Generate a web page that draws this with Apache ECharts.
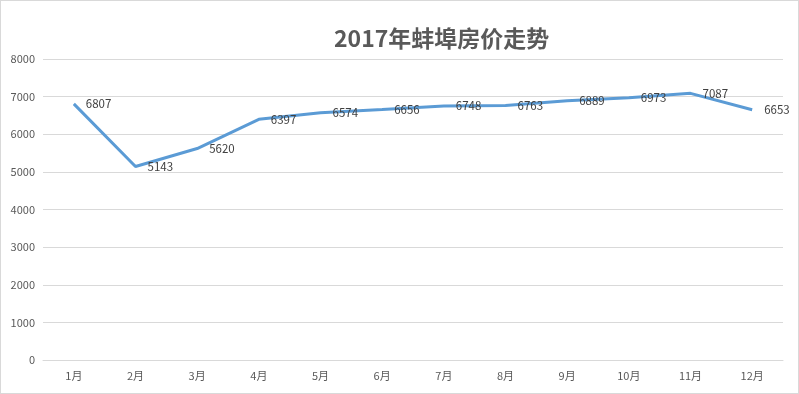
<!DOCTYPE html>
<html><head><meta charset="utf-8">
<script src="https://cdn.jsdelivr.net/npm/echarts@6/dist/echarts.min.js"></script>
<style>html,body{margin:0;padding:0;background:#fff;}#c{width:799px;height:394px;box-sizing:border-box;border:1px solid #d9d9d9;}</style>
</head><body><div id="c"></div>
<script>
const categories = ['1月','2月','3月','4月','5月','6月','7月','8月','9月','10月','11月','12月'];
const prices = [6807, 5143, 5620, 6397, 6574, 6656, 6748, 6763, 6889, 6973, 7087, 6653];
const titleText = '2017年蚌埠房价走势';
const chart = echarts.init(document.getElementById('c'));
chart.setOption({
  animation: false,
  title: { text: titleText, left: 328, top: 21, textStyle: { fontFamily: 'Noto Sans CJK SC', fontSize: 23, fontWeight: 'bold', color: '#595959' } },
  grid: { left: 42, right: 15, top: 58, bottom: 33 },
  xAxis: { type: 'category', data: categories, boundaryGap: true,
    axisLine: { show: true, lineStyle: { color: '#d9d9d9' } }, axisTick: { show: false },
    axisLabel: { color: '#595959', fontSize: 11, fontFamily: 'Noto Sans CJK SC', margin: 10 } },
  yAxis: { type: 'value', min: 0, max: 8000, interval: 1000,
    axisLine: { show: false }, axisTick: { show: false },
    splitLine: { lineStyle: { color: '#d9d9d9' } },
    axisLabel: { color: '#595959', fontSize: 11, fontFamily: 'Noto Sans CJK SC', margin: 8, formatter: v => String(v) } },
  series: [{ type: 'line', data: prices, showSymbol: true, symbol: 'circle', symbolSize: 0,
    lineStyle: { color: '#5B9BD5', width: 3 }, itemStyle: { color: '#5B9BD5' },
    label: { show: true, position: 'right', distance: 12, offset: [0, 0], color: '#404040', fontSize: 11.5, fontFamily: 'Noto Sans CJK SC' } }]
});
</script></body></html>
